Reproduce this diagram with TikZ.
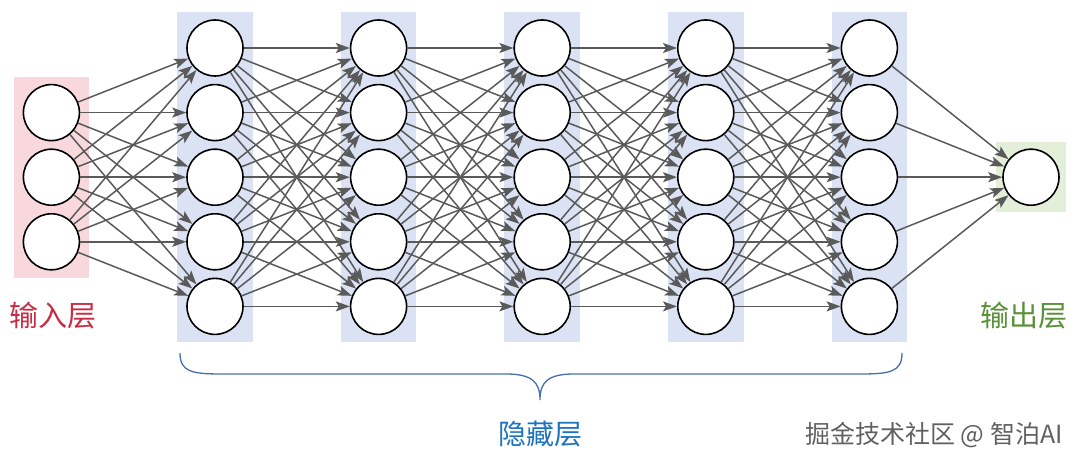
\documentclass[tikz,border=0pt]{standalone}
\usepackage{fontspec}
\newfontfamily\cjk{Noto Sans CJK SC}
\usetikzlibrary{positioning, fit, backgrounds, arrows.meta}

\definecolor{inpink}{RGB}{248,216,221}
\definecolor{hidblue}{RGB}{218,226,243}
\definecolor{outgreen}{RGB}{227,239,217}
\definecolor{inred}{RGB}{200,45,68}
\definecolor{outgreentext}{RGB}{88,145,55}
\definecolor{hidbluetext}{RGB}{30,115,190}
\definecolor{bracecol}{RGB}{70,110,175}
\definecolor{linkgray}{RGB}{90,90,90}

\tikzset{
    neuron/.style={circle, draw=black, line width=1.6pt, fill=white, minimum size=56pt, inner sep=0pt},
    link/.style={-{Stealth[length=14pt, width=10pt, inset=3pt]}, draw=linkgray, fill=linkgray, line width=1.5pt},
    layerbox/.style={inner xsep=9pt, inner ysep=7pt, draw=none},
}

\begin{document}
\begin{tikzpicture}[x=1pt, y=-1pt]
        \useasboundingbox (0,0) rectangle (1080,465);

        %Hidden layer 1
        \node[neuron](h11) at (215,48){};
        \node[neuron, below = 7pt of h11](h12){};
        \node[neuron, below = 7pt of h12](h13){};
        \node[neuron, below = 7pt of h13](h14){};
        \node[neuron, below = 7pt of h14](h15){};

        %Hidden layer 2
        \node[neuron, right = 106pt of h11](h21){};
        \node[neuron, right = 106pt of h12](h22){};
        \node[neuron, right = 106pt of h13](h23){};
        \node[neuron, right = 106pt of h14](h24){};
        \node[neuron, right = 106pt of h15](h25){};

        %Hidden layer 3
        \node[neuron, right = 106pt of h21](h31){};
        \node[neuron, right = 106pt of h22](h32){};
        \node[neuron, right = 106pt of h23](h33){};
        \node[neuron, right = 106pt of h24](h34){};
        \node[neuron, right = 106pt of h25](h35){};

        %Hidden layer 4
        \node[neuron, right = 106pt of h31](h41){};
        \node[neuron, right = 106pt of h32](h42){};
        \node[neuron, right = 106pt of h33](h43){};
        \node[neuron, right = 106pt of h34](h44){};
        \node[neuron, right = 106pt of h35](h45){};

        %Hidden layer 5
        \node[neuron, right = 106pt of h41](h51){};
        \node[neuron, right = 106pt of h42](h52){};
        \node[neuron, right = 106pt of h43](h53){};
        \node[neuron, right = 106pt of h44](h54){};
        \node[neuron, right = 106pt of h45](h55){};

        %Input and output
        \node[neuron, left = 106pt of h13](in2){};
        \node[neuron, above = 7pt of in2](in1){};
        \node[neuron, below = 7pt of in2](in3){};
        \node[neuron, right = 104pt of h53](out){};

        %Layer boxes
        \begin{scope}[on background layer]
            \node[layerbox, fill=inpink, fit=(in1)(in3)](inbox){};
            \node[layerbox, fill=hidblue, fit=(h11)(h15)](hbox1){};
            \node[layerbox, fill=hidblue, fit=(h21)(h25)](hbox2){};
            \node[layerbox, fill=hidblue, fit=(h31)(h35)](hbox3){};
            \node[layerbox, fill=hidblue, fit=(h41)(h45)](hbox4){};
            \node[layerbox, fill=hidblue, fit=(h51)(h55)](hbox5){};
            \node[layerbox, inner sep=6.5pt, fill=outgreen, fit=(out)](outbox){};
        \end{scope}

        %Links
        \foreach \i in {1,2,3}
            \foreach \j in {1,...,5}
                \draw[link] (in\i) -- (h1\j);
        \foreach \l/\m in {1/2, 2/3, 3/4, 4/5}
            \foreach \i in {1,...,5}
                \foreach \j in {1,...,5}
                    \draw[link] (h\l\i) -- (h\m\j);
        \foreach \i in {1,...,5}
            \draw[link] (h5\i) -- (out);

        %Brace
        \coordinate (bl) at (180,353);
        \coordinate (br) at (902,353);
        \coordinate (btip) at (540,400);
        \draw[bracecol, line width=1.3pt] (bl) .. controls (180,372) and (192,374) .. (222,374)
            -- (506,374) .. controls (532,374) and (540,382) .. (btip)
            .. controls (540,382) and (548,374) .. (574,374)
            -- (860,374) .. controls (890,374) and (902,372) .. (br);

        %Labels
        \node[text=inred, font=\cjk\fontsize{29}{32}\selectfont](inlabel) at (53,316){输入层};
        \node[text=outgreentext, font=\cjk\fontsize{29}{32}\selectfont](outlabel) at (1024,316){输出层};
        \node[text=hidbluetext, font=\cjk\fontsize{28}{32}\selectfont](hidlabel) at (540,434){隐藏层};
        \node[text=black!62, font=\cjk\fontsize{25}{28}\selectfont](mark) at (934,435){掘金技术社区 @ 智泊AI};

    \end{tikzpicture}
\end{document}
